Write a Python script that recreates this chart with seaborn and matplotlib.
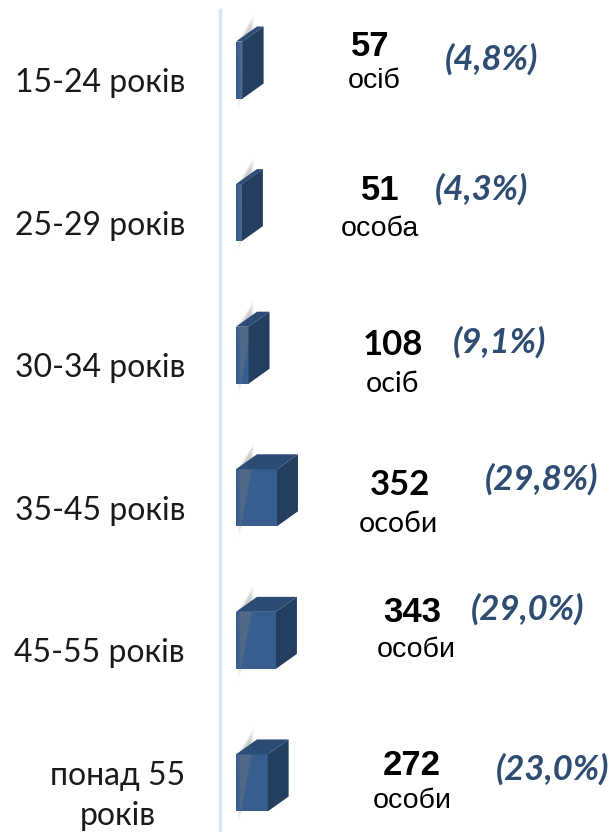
import numpy as np
import pandas as pd
import seaborn as sns
import matplotlib.pyplot as plt
from matplotlib.patches import Polygon

# data
age_groups = ['15-24 років', '25-29 років', '30-34 років', '35-45 років',
              '45-55 років', 'понад 55\nроків']
counts = [57, 51, 108, 352, 343, 272]
units = ['осіб', 'особа', 'осіб', 'особи', 'особи', 'особи']
shares = ['(4,8%)', '(4,3%)', '(9,1%)', '(29,8%)', '(29,0%)', '(23,0%)']

# text layout (figure pixels from top-left, baselines)
num_x = [370, 380, 393, 400, 412, 412]
num_y = [56, 200, 355, 495, 622, 775]
unit_x = [374, 380, 392, 398, 416, 412]
unit_y = [88, 236, 392, 532, 657, 808]
pct_x = [491, 482, 499, 542, 528, 553]
pct_y = [70, 200, 353, 490, 620, 780]
txt_font = ['Liberation Sans', 'Liberation Sans', 'Lato', 'Lato',
            'Liberation Sans', 'Liberation Sans']

FRONT = '#365e8f'
SIDE = '#243e60'
TOP = '#2c4c75'
AXIS = '#dce6f2'
PCT = '#2f4c72'

sns.set_theme(style='white')
plt.rcParams['font.family'] = ['Lato', 'DejaVu Sans']

W, H = 615, 832
fig = plt.figure(figsize=(W / 100, H / 100), dpi=100)
ax = fig.add_axes([220 / W, 0, (W - 220) / W, 822 / H])

df = pd.DataFrame({'group': age_groups, 'count': counts})
sns.barplot(data=df, x='count', y='group', orient='h', width=0.40,
            color=FRONT, saturation=1, ax=ax)
ax.set_xlim(-137, 3254)
ax.set_ylim(5.344, -0.421)

for s in ['top', 'right', 'bottom']:
    ax.spines[s].set_visible(False)
ax.spines['left'].set_color(AXIS)
ax.spines['left'].set_linewidth(2.5)
ax.set_xticks([])
ax.set_yticks([])
ax.set_xlabel('')
ax.set_ylabel('')

# 3d faces + soft shadow
dx, dy = 21, 15
for p in ax.patches:
    p.set_edgecolor('none')
    (x0, y0), (x1, y1) = ax.transData.transform(
        [(p.get_x(), p.get_y()), (p.get_x() + p.get_width(), p.get_y() + p.get_height())])
    ylo, yhi = min(y0, y1), max(y0, y1)
    for k, a in enumerate([0.06, 0.09, 0.13, 0.16]):
        sh = Polygon([(x0 + 1 + k, yhi), (x0 + dx - 3 - k, yhi + dy + 12 - 3 * k),
                      (x0 + dx - 3 - k, yhi + 2), (x0 + 2 + k, ylo - 12 + 3 * k)],
                     closed=True, transform=None, facecolor='#808080', alpha=a,
                     edgecolor='none', zorder=1)
        fig.patches.append(sh)
    side = Polygon([(x1, yhi), (x1 + dx, yhi + dy), (x1 + dx, ylo + dy), (x1, ylo)],
                   closed=True, transform=None, facecolor=SIDE, edgecolor='none', zorder=3)
    top = Polygon([(x0, yhi), (x0 + dx, yhi + dy), (x1 + dx, yhi + dy), (x1, yhi)],
                  closed=True, transform=None, facecolor=TOP, edgecolor='none', zorder=3)
    fig.patches.append(side)
    fig.patches.append(top)
    p.set_zorder(4)

# category labels
for i, lab in enumerate(age_groups):
    yc = 70 + 142.6 * i + 13
    fig.text(185 / W, 1 - yc / H, lab, ha='right', va='center', multialignment='center',
             fontsize=23, color='#1a1a1a', linespacing=1.45)

for i in range(len(counts)):
    fig.text(num_x[i] / W, 1 - num_y[i] / H, str(counts[i]), ha='center', va='baseline',
             fontsize=25, fontweight='bold', color='black', family=[txt_font[i], 'DejaVu Sans'])
    fig.text(unit_x[i] / W, 1 - unit_y[i] / H, units[i], ha='center', va='baseline',
             fontsize=20.5, color='black', family=[txt_font[i], 'DejaVu Sans'])
    fig.text(pct_x[i] / W, 1 - pct_y[i] / H, shares[i], ha='center', va='baseline',
             fontsize=25, fontweight='bold', fontstyle='italic', color=PCT,
             family=['Lato', 'DejaVu Sans'])

fig.savefig('out.png', dpi=100)
